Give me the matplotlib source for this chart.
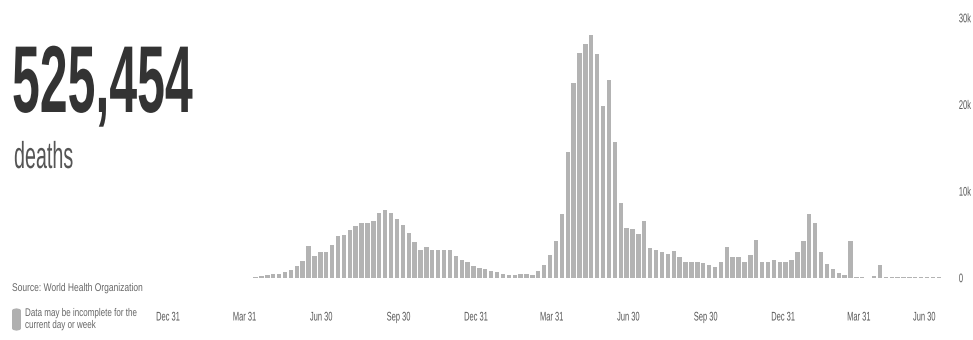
import matplotlib
matplotlib.use("Agg")
import matplotlib.pyplot as plt
from matplotlib import patheffects
from matplotlib.transforms import Affine2D
from matplotlib.patches import FancyBboxPatch
import pandas as pd

# ---- data (weekly deaths) ----
start_date = "2020-03-23"
weekly_deaths = [
    20, 30,
    50, 100, 200, 400, 500, 500, 650, 960, 1400, 2000, 3750, 2500, 2950, 3000,
    3800, 4800, 5000, 5550, 6050, 6300, 6400, 6600, 7500, 7800, 7500, 6800,
    6100, 5200, 4200, 3250, 3600, 3250, 3250, 3200, 3200, 2500, 2100, 1800,
    1400, 1200, 1000, 770, 650, 500, 400, 400, 420, 420, 400, 850, 1450, 2650,
    4300, 7400,
    14500, 22500, 26000, 27000, 28000, 25800, 19900, 22800, 15700, 8600,
    5800, 5600, 5100, 6550, 3500, 3200, 3050, 2800, 3100, 2400,
    1900, 1900, 1900, 1700, 1500, 1250, 1850, 3600, 2400, 2400,
    1800, 2600, 4400, 1900, 1900, 2100, 1900, 1900, 2100, 3000,
    4300, 7400, 6300, 2950, 1600, 1050, 570, 400, 4250, 150,
    150, 50, 200, 1450, 60, 60, 60, 60, 60, 60, 60, 60, 60, 60,
]
total_deaths = "525,454"
unit_label = "deaths"
source_text = "Source: World Health Organization"
note_lines = ["Data may be incomplete for the", "current day or week"]
x_tick_dates = ["2019-12-31", "2020-03-31", "2020-06-30", "2020-09-30",
                "2020-12-31", "2021-03-31", "2021-06-30", "2021-09-30",
                "2021-12-31", "2022-03-31", "2022-06-30"]
x_tick_labels = ["Dec 31", "Mar 31", "Jun 30", "Sep 30", "Dec 31", "Mar 31",
                 "Jun 30", "Sep 30", "Dec 31", "Mar 31", "Jun 30"]
y_ticks = [0, 10000, 20000, 30000]
y_tick_labels = ["0", "10k", "20k", "30k"]

plt.rcParams["font.family"] = ["Liberation Sans", "DejaVu Sans"]


class Tall(patheffects.AbstractPathEffect):
    """Draw the (real) text taller than wide, like a condensed face."""

    def __init__(self, sy, anchor="baseline"):
        super().__init__()
        self.sy = sy
        self.anchor = anchor

    def draw_path(self, renderer, gc, tpath, affine, rgbFace=None):
        if self.anchor == "center":
            ext = tpath.get_extents(affine)
            y0 = (ext.y0 + ext.y1) / 2
        else:
            y0 = affine.get_matrix()[1, 2]
        aff = affine + Affine2D().translate(0, -y0).scale(1, self.sy).translate(0, y0)
        renderer.draw_path(gc, tpath, aff, rgbFace)


dates = pd.date_range(start_date, periods=len(weekly_deaths), freq="7D")

W, H = 973, 340
fig = plt.figure(figsize=(W / 100, H / 100), dpi=100)
ax = fig.add_axes([165.5 / W, (H - 278) / H, (942.2 - 165.5) / W, 260 / H])

ax.bar(dates, weekly_deaths, width=5.2, color="#b3b3b3", linewidth=0)
ax.set_xlim(pd.Timestamp("2019-12-28"), pd.Timestamp("2022-07-08"))
ax.set_ylim(0, 30000)
for s in ax.spines.values():
    s.set_visible(False)

ax.set_xticks(pd.to_datetime(x_tick_dates))
ax.set_xticklabels(x_tick_labels)
ax.tick_params(axis="x", length=0, pad=27, labelsize=5.4, labelcolor="#555555")
xl = ax.get_xticklabels()
for t in xl:
    t.set_path_effects([Tall(1.67)])
xl[-1].set_horizontalalignment("right")

ax.yaxis.tick_right()
ax.set_yticks(y_ticks)
ax.set_yticklabels(y_tick_labels)
ax.tick_params(axis="y", length=0, pad=12, labelsize=5.4, labelcolor="#555555")
for t in ax.get_yticklabels():
    t.set_path_effects([Tall(1.67, "center")])

# left-side texts
fig.text(12 / W, 1 - 112 / H, total_deaths, fontsize=36, fontweight="bold",
         color="#333333", ha="left", va="baseline",
         path_effects=[Tall(1.9)])
fig.text(14 / W, 1 - 168 / H, unit_label, fontsize=14.2, color="#555555",
         ha="left", va="baseline", path_effects=[Tall(1.9)])
fig.text(12 / W, 1 - 291 / H, source_text, fontsize=6.1, color="#666666",
         ha="left", va="baseline", path_effects=[Tall(1.32)])
fig.patches.append(FancyBboxPatch((12 / W, 1 - 331 / H), 9 / W, 23 / H,
                                  boxstyle="round,pad=0,rounding_size=0.008",
                                  transform=fig.transFigure, facecolor="#b0b0b0",
                                  edgecolor="none"))
fig.text(25 / W, 1 - 316 / H, note_lines[0], fontsize=5.8, color="#666666",
         ha="left", va="baseline", path_effects=[Tall(1.38)])
fig.text(25 / W, 1 - 328 / H, note_lines[1], fontsize=5.8, color="#666666",
         ha="left", va="baseline", path_effects=[Tall(1.38)])

fig.savefig("out.png", dpi=100, facecolor="white")
